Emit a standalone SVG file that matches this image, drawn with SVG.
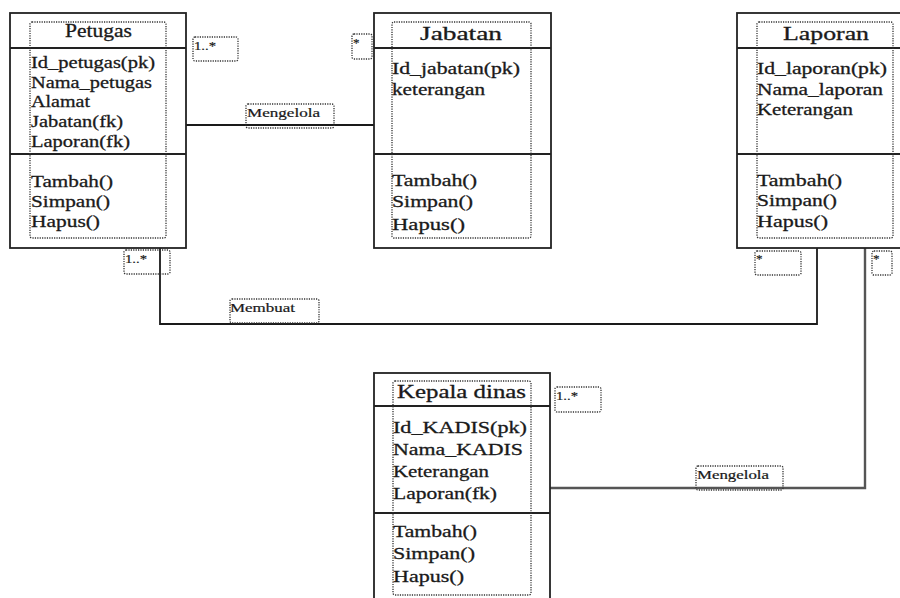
<svg xmlns="http://www.w3.org/2000/svg" width="900" height="598" viewBox="0 0 900 598">
  <style>
    .box { fill: #ffffff; stroke: #222222; stroke-width: 1.8; }
    .sep { stroke: #222222; stroke-width: 1.8; }
    .dot { fill: none; stroke: #333333; stroke-width: 1.3; stroke-dasharray: 1.2 1.2; }
    .t { font-family: 'Liberation Serif', 'DejaVu Serif', 'Times New Roman', serif; font-size: 17px; fill: #1a1a1a; stroke: #1a1a1a; stroke-width: 0.3; }
    .title { font-size: 18px; }
    .lbl { font-family: 'Liberation Serif', 'DejaVu Serif', 'Times New Roman', serif; font-size: 12px; fill: #1a1a1a; stroke: #1a1a1a; stroke-width: 0.2; }
    .mult { font-size: 13px; }
    .edge { fill: none; stroke: #1a1a1a; stroke-width: 1.8; }
    .edge2 { fill: none; stroke: #555555; stroke-width: 2.4; }
  </style>
  <rect x="0" y="0" width="900" height="598" fill="#ffffff"/>

  <!-- associations -->
  <g id="connectors">
    <line class="edge" x1="186" y1="125" x2="374" y2="125"/>
    <polyline class="edge" points="160,248 160,324 817,324 817,248"/>
    <polyline class="edge2" points="550,488 865,488 865,248"/>

    <rect class="dot" x="246" y="104" width="88" height="24" rx="2"/>
    <text class="lbl" x="247" y="117" textLength="73" lengthAdjust="spacingAndGlyphs">Mengelola</text>
    <rect class="dot" x="230" y="299" width="89" height="24" rx="2"/>
    <text class="lbl" x="230" y="312" textLength="65" lengthAdjust="spacingAndGlyphs">Membuat</text>
    <rect class="dot" x="696" y="466" width="87" height="24" rx="2"/>
    <text class="lbl" x="697" y="479" textLength="72" lengthAdjust="spacingAndGlyphs">Mengelola</text>

    <!-- multiplicities -->
    <rect class="dot" x="193" y="37" width="45" height="24" rx="2"/>
    <text class="lbl mult" x="194" y="50" textLength="22" lengthAdjust="spacingAndGlyphs">1..*</text>
    <rect class="dot" x="352" y="34" width="20" height="25" rx="2"/>
    <text class="lbl mult" x="353" y="47">*</text>
    <rect class="dot" x="124" y="250" width="46" height="24" rx="2"/>
    <text class="lbl mult" x="125" y="263" textLength="22" lengthAdjust="spacingAndGlyphs">1..*</text>
    <rect class="dot" x="755" y="251" width="46" height="24" rx="2"/>
    <text class="lbl mult" x="756" y="263">*</text>
    <rect class="dot" x="872" y="251" width="20" height="24" rx="2"/>
    <text class="lbl mult" x="873" y="263">*</text>
    <rect class="dot" x="555" y="387" width="46" height="25" rx="2"/>
    <text class="lbl mult" x="556" y="400" textLength="22" lengthAdjust="spacingAndGlyphs">1..*</text>
  </g>

  <!-- class Petugas -->
  <g id="petugas">
    <rect class="box" x="10" y="13" width="176" height="235"/>
    <line class="sep" x1="10" y1="48" x2="186" y2="48"/>
    <line class="sep" x1="10" y1="154" x2="186" y2="154"/>
    <rect class="dot" x="30" y="22" width="136" height="216" rx="2"/>
    <text class="t title" x="65" y="37" textLength="67" lengthAdjust="spacingAndGlyphs">Petugas</text>
    <text class="t" x="31" y="68" textLength="124" lengthAdjust="spacingAndGlyphs">Id_petugas(pk)</text>
    <text class="t" x="31" y="88" textLength="121" lengthAdjust="spacingAndGlyphs">Nama_petugas</text>
    <text class="t" x="31" y="107" textLength="59" lengthAdjust="spacingAndGlyphs">Alamat</text>
    <text class="t" x="31" y="127" textLength="92" lengthAdjust="spacingAndGlyphs">Jabatan(fk)</text>
    <text class="t" x="31" y="147" textLength="99" lengthAdjust="spacingAndGlyphs">Laporan(fk)</text>
    <text class="t" x="31" y="187" textLength="82" lengthAdjust="spacingAndGlyphs">Tambah()</text>
    <text class="t" x="31" y="207" textLength="79" lengthAdjust="spacingAndGlyphs">Simpan()</text>
    <text class="t" x="31" y="227" textLength="69" lengthAdjust="spacingAndGlyphs">Hapus()</text>
  </g>

  <!-- class Jabatan -->
  <g id="jabatan">
    <rect class="box" x="374" y="13" width="177" height="235"/>
    <line class="sep" x1="374" y1="48" x2="551" y2="48"/>
    <line class="sep" x1="374" y1="154" x2="551" y2="154"/>
    <rect class="dot" x="392" y="22" width="139" height="216" rx="2"/>
    <text class="t title" x="420" y="40" textLength="82" lengthAdjust="spacingAndGlyphs">Jabatan</text>
    <text class="t" x="392" y="74" textLength="128" lengthAdjust="spacingAndGlyphs">Id_jabatan(pk)</text>
    <text class="t" x="392" y="95" textLength="93" lengthAdjust="spacingAndGlyphs">keterangan</text>
    <text class="t" x="392" y="186" textLength="85" lengthAdjust="spacingAndGlyphs">Tambah()</text>
    <text class="t" x="392" y="207" textLength="81" lengthAdjust="spacingAndGlyphs">Simpan()</text>
    <text class="t" x="392" y="230" textLength="73" lengthAdjust="spacingAndGlyphs">Hapus()</text>
  </g>

  <!-- class Laporan -->
  <g id="laporan">
    <rect class="box" x="737" y="13" width="180" height="235"/>
    <line class="sep" x1="737" y1="48" x2="900" y2="48"/>
    <line class="sep" x1="737" y1="154" x2="900" y2="154"/>
    <rect class="dot" x="757" y="22" width="136" height="216" rx="2"/>
    <text class="t title" x="783" y="40" textLength="86" lengthAdjust="spacingAndGlyphs">Laporan</text>
    <text class="t" x="757" y="74" textLength="130" lengthAdjust="spacingAndGlyphs">Id_laporan(pk)</text>
    <text class="t" x="757" y="95" textLength="126" lengthAdjust="spacingAndGlyphs">Nama_laporan</text>
    <text class="t" x="757" y="115" textLength="96" lengthAdjust="spacingAndGlyphs">Keterangan</text>
    <text class="t" x="757" y="186" textLength="85" lengthAdjust="spacingAndGlyphs">Tambah()</text>
    <text class="t" x="757" y="206" textLength="80" lengthAdjust="spacingAndGlyphs">Simpan()</text>
    <text class="t" x="757" y="227" textLength="71" lengthAdjust="spacingAndGlyphs">Hapus()</text>
  </g>

  <!-- class Kepala dinas -->
  <g id="kepala-dinas">
    <rect class="box" x="374" y="373" width="176" height="240"/>
    <line class="sep" x1="374" y1="406" x2="550" y2="406"/>
    <line class="sep" x1="374" y1="513" x2="550" y2="513"/>
    <rect class="dot" x="393" y="381" width="138" height="214" rx="2"/>
    <text class="t title" x="397" y="398" textLength="129" lengthAdjust="spacingAndGlyphs">Kepala dinas</text>
    <text class="t" x="393" y="433" textLength="134" lengthAdjust="spacingAndGlyphs">Id_KADIS(pk)</text>
    <text class="t" x="393" y="455" textLength="130" lengthAdjust="spacingAndGlyphs">Nama_KADIS</text>
    <text class="t" x="393" y="477" textLength="96" lengthAdjust="spacingAndGlyphs">Keterangan</text>
    <text class="t" x="393" y="499" textLength="104" lengthAdjust="spacingAndGlyphs">Laporan(fk)</text>
    <text class="t" x="393" y="537" textLength="84" lengthAdjust="spacingAndGlyphs">Tambah()</text>
    <text class="t" x="393" y="559" textLength="82" lengthAdjust="spacingAndGlyphs">Simpan()</text>
    <text class="t" x="393" y="582" textLength="71" lengthAdjust="spacingAndGlyphs">Hapus()</text>
  </g>
</svg>
